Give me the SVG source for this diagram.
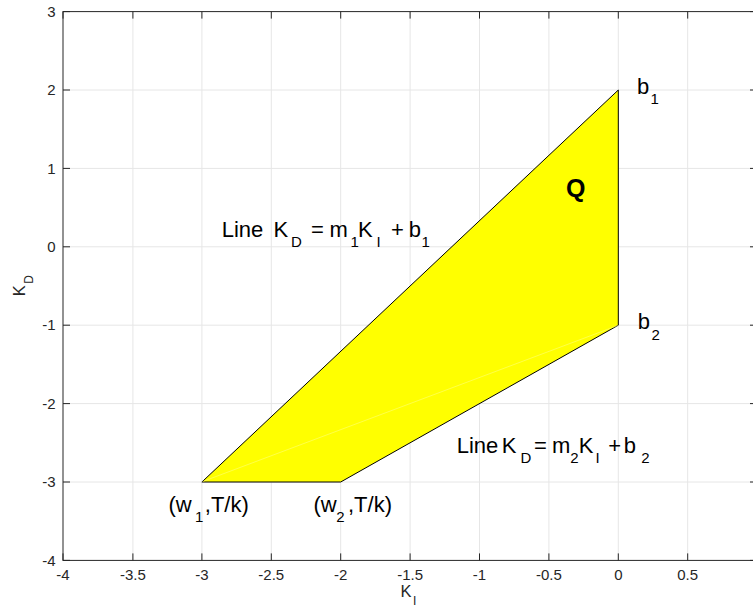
<svg xmlns="http://www.w3.org/2000/svg" width="753" height="612" viewBox="0 0 753 612">
<style>
.grid{stroke:#e6e6e6;stroke-width:1;fill:none}
.axis{stroke:#262626;stroke-width:1;fill:none}
.tick{font-family:"Liberation Sans",Arial,sans-serif;font-size:15px;fill:#262626}
.lab{font-family:"Liberation Sans",Arial,sans-serif;font-size:22px;fill:#000}
.sub{font-size:15px}
.axl{font-family:"Liberation Sans",Arial,sans-serif;font-size:16.5px;fill:#262626}
.axsub{font-size:12px}
</style>
<rect x="0" y="0" width="753" height="612" fill="#fff"/>
<g id="grid">
<path class="grid" d="M132.9 11.6V560.4M201.9 11.6V560.4M271.3 11.6V560.4M340.7 11.6V560.4M410.1 11.6V560.4M479.5 11.6V560.4M548.9 11.6V560.4M618.3 11.6V560.4M687.7 11.6V560.4"/>
<path class="grid" d="M63 90H757M63 168.4H757M63 246.8H757M63 325.2H757M63 403.6H757M63 482H757"/>
</g>
<g id="region-Q">
<polygon points="201.9,482 618.3,90 618.3,325.2 340.7,482" fill="#ffff00" stroke="#000" stroke-width="1" stroke-linejoin="miter"/>
<line x1="202.5" y1="481.6" x2="617.8" y2="325.5" stroke="#ffff90" stroke-width="0.5"/>
</g>
<g id="axes">
<rect class="axis" x="63" y="11.6" width="694" height="548.8"/>
<path class="axis" d="M63 553.4V560.4M132.9 553.4V560.4M201.9 553.4V560.4M271.3 553.4V560.4M340.7 553.4V560.4M410.1 553.4V560.4M479.5 553.4V560.4M548.9 553.4V560.4M618.3 553.4V560.4M687.7 553.4V560.4"/>
<path class="axis" d="M63 11.6V18.6M132.9 11.6V18.6M201.9 11.6V18.6M271.3 11.6V18.6M340.7 11.6V18.6M410.1 11.6V18.6M479.5 11.6V18.6M548.9 11.6V18.6M618.3 11.6V18.6M687.7 11.6V18.6"/>
<path class="axis" d="M63 11.6H70M63 90H70M63 168.4H70M63 246.8H70M63 325.2H70M63 403.6H70M63 482H70M63 560.4H70"/>
<path class="axis" d="M757 11.6H750M757 90H750M757 168.4H750M757 246.8H750M757 325.2H750M757 403.6H750M757 482H750M757 560.4H750"/>
</g>
<g id="xticklabels" class="tick" text-anchor="middle">
<text x="63" y="580">-4</text>
<text x="132.9" y="580">-3.5</text>
<text x="201.9" y="580">-3</text>
<text x="271.3" y="580">-2.5</text>
<text x="340.7" y="580">-2</text>
<text x="410.1" y="580">-1.5</text>
<text x="479.5" y="580">-1</text>
<text x="548.9" y="580">-0.5</text>
<text x="618.3" y="580">0</text>
<text x="687.7" y="580">0.5</text>
</g>
<g id="yticklabels" class="tick" text-anchor="end">
<text x="55.5" y="16.8">3</text>
<text x="55.5" y="95.2">2</text>
<text x="55.5" y="173.6">1</text>
<text x="55.5" y="252">0</text>
<text x="55.5" y="330.4">-1</text>
<text x="55.5" y="408.8">-2</text>
<text x="55.5" y="487.2">-3</text>
<text x="55.5" y="565.6">-4</text>
</g>
<g id="xlabel" class="axl">
<text x="400.5" y="597.3">K<tspan class="axsub" x="413" y="605">I</tspan></text>
</g>
<g id="ylabel" class="axl">
<text transform="translate(25,296.2) rotate(-90)" x="0" y="0">K<tspan class="axsub" x="12.5" y="8">D</tspan></text>
</g>
<g id="label-line1" class="lab">
<text y="236.7"><tspan x="221.7">Line</tspan><tspan x="273.4">K</tspan><tspan class="sub" x="291" y="246.5">D</tspan><tspan x="311" y="236.7">=</tspan><tspan x="329.6">m</tspan><tspan class="sub" x="350.4" y="246.5">1</tspan><tspan x="358" y="236.7">K</tspan><tspan class="sub" x="376.6" y="246.5">I</tspan><tspan x="390.9" y="236.7">+</tspan><tspan x="408.8">b</tspan><tspan class="sub" x="421.4" y="246.5">1</tspan></text>
</g>
<g id="label-line2" class="lab">
<text y="453.3"><tspan x="456.7">Line</tspan><tspan x="501.7">K</tspan><tspan class="sub" x="520.5" y="463.1">D</tspan><tspan x="534" y="453.3">=</tspan><tspan x="552">m</tspan><tspan class="sub" x="570.3" y="463.1">2</tspan><tspan x="578.8" y="453.3">K</tspan><tspan class="sub" x="595.6" y="463.1">I</tspan><tspan x="608.2" y="453.3">+</tspan><tspan x="623.8">b</tspan><tspan class="sub" x="641.2" y="463.1">2</tspan></text>
</g>
<g id="label-b1" class="lab">
<text x="637" y="94">b<tspan class="sub" x="650.5" y="104">1</tspan></text>
</g>
<g id="label-b2" class="lab">
<text x="637.8" y="329">b<tspan class="sub" x="651.5" y="339.5">2</tspan></text>
</g>
<g id="label-Q" class="lab">
<text x="566" y="197" font-weight="bold" font-size="25">Q</text>
</g>
<g id="label-w1" class="lab">
<text y="511.7"><tspan x="168.5">(w</tspan><tspan class="sub" x="195" y="522">1</tspan><tspan x="204.8" y="511.7">,T/k)</tspan></text>
</g>
<g id="label-w2" class="lab">
<text y="511.7"><tspan x="313.5">(w</tspan><tspan class="sub" x="336.2" y="522">2</tspan><tspan x="348" y="511.7">,T/k)</tspan></text>
</g>
</svg>
